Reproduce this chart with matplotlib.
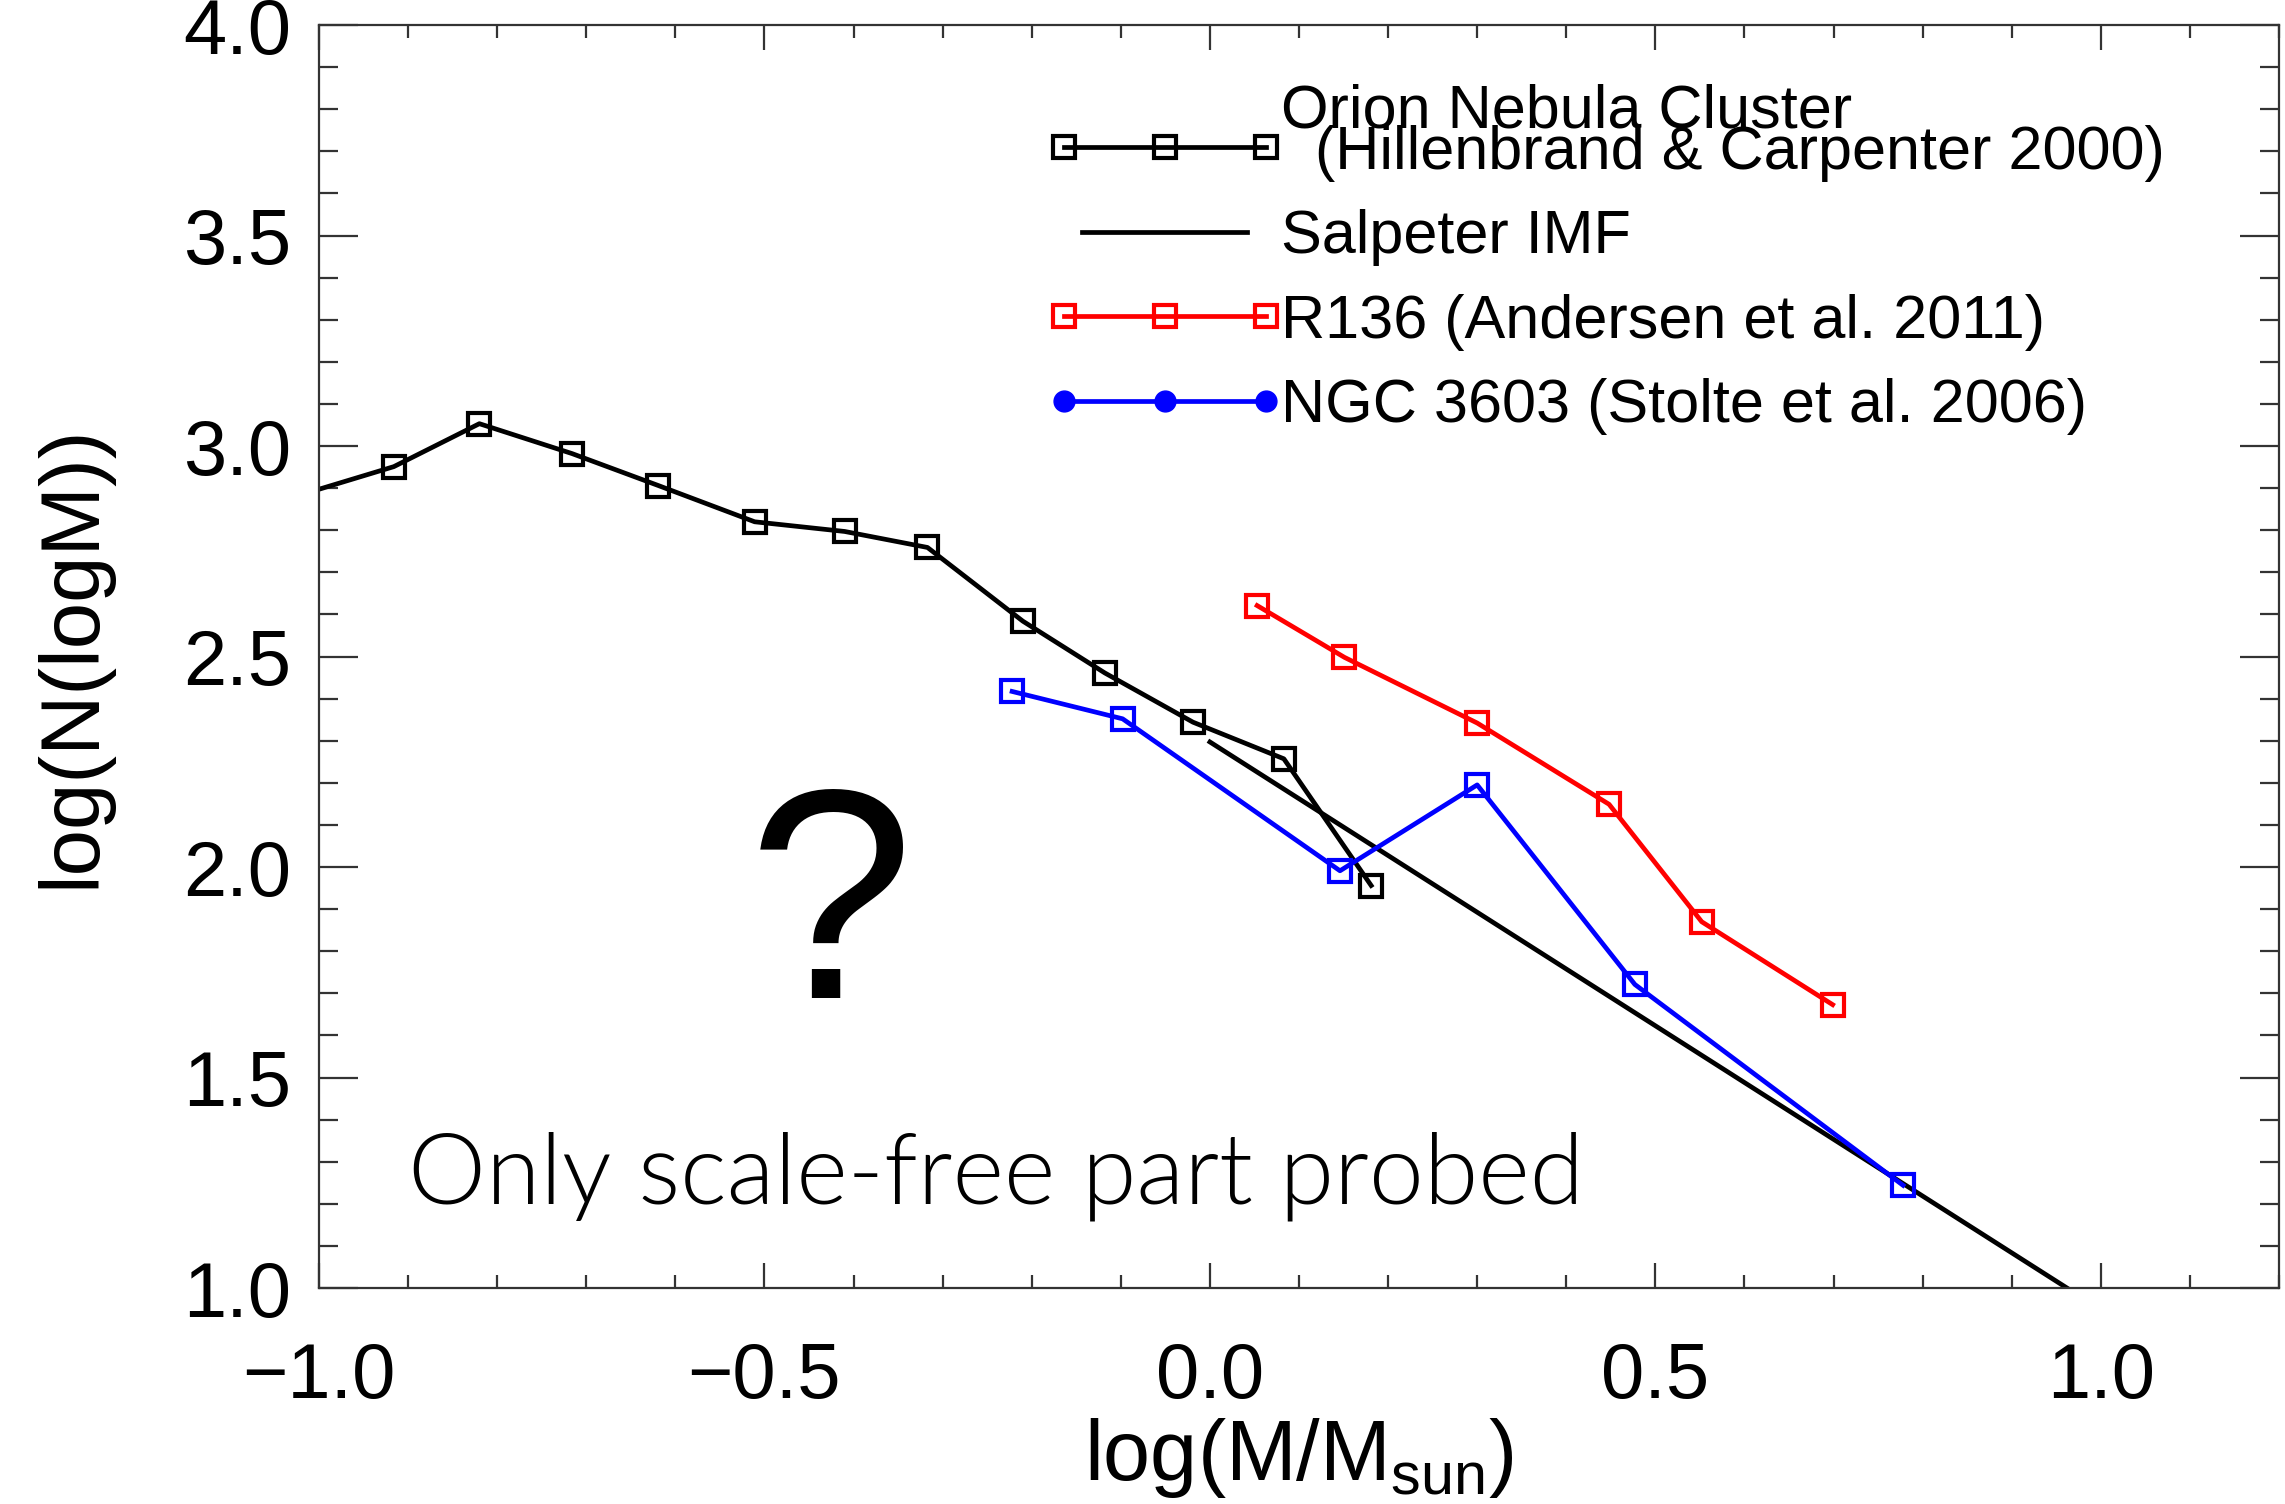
import matplotlib
matplotlib.use("Agg")
import matplotlib.pyplot as plt
from matplotlib.lines import Line2D
from matplotlib.legend_handler import HandlerLine2D
from matplotlib.ticker import MultipleLocator

plt.rcParams['font.family'] = ['Liberation Sans', 'DejaVu Sans']
plt.rcParams['mathtext.fontset'] = 'custom'
plt.rcParams['mathtext.rm'] = 'Liberation Sans'

# Orion Nebula Cluster (Hillenbrand & Carpenter 2000)
onc_logm = [-1.016, -0.916, -0.820, -0.716, -0.619, -0.511, -0.410, -0.317,
            -0.210, -0.118, -0.019, 0.083, 0.181]
onc_logn = [2.887, 2.951, 3.053, 2.982, 2.906, 2.820, 2.797, 2.759,
            2.584, 2.461, 2.344, 2.257, 1.956]

# Salpeter IMF (straight line, two end points)
salp_logm = [0.0, 0.962]
salp_logn = [2.297, 1.0]

# R136 (Andersen et al. 2011)
r136_logm = [0.053, 0.151, 0.300, 0.448, 0.552, 0.699]
r136_logn = [2.621, 2.498, 2.342, 2.149, 1.870, 1.673]

# NGC 3603 (Stolte et al. 2006)
ngc_logm = [-0.222, -0.098, 0.146, 0.300, 0.477, 0.778]
ngc_logn = [2.417, 2.352, 1.991, 2.195, 1.721, 1.244]

labels = ["Orion Nebula Cluster\n  (Hillenbrand & Carpenter 2000)",
          "Salpeter IMF",
          "R136 (Andersen et al. 2011)",
          "NGC 3603 (Stolte et al. 2006)"]

fig = plt.figure(figsize=(22.85, 15.04), dpi=100)
ax = fig.add_axes([319 / 2285, 1 - 1288 / 1504, 1960 / 2285, 1263 / 1504])

lw = 3.4
msq = dict(marker='s', markersize=16, markerfacecolor='none', markeredgewidth=3.0)

l_onc, = ax.plot(onc_logm, onc_logn, color='black', lw=lw, **msq)
l_salp, = ax.plot(salp_logm, salp_logn, color='black', lw=lw)
l_r136, = ax.plot(r136_logm, r136_logn, color='#ff0000', lw=lw,
                  markeredgecolor='#ff0000', **msq)
l_ngc, = ax.plot(ngc_logm, ngc_logn, color='#0000ff', lw=lw,
                 markeredgecolor='#0000ff', **msq)
# legend proxy: NGC 3603 uses filled dots in the key
p_ngc = Line2D([], [], color='#0000ff', lw=lw, marker='o', markersize=15,
               markerfacecolor='#0000ff', markeredgecolor='#0000ff')

ax.set_xlim(-1.0, 1.2)
ax.set_ylim(1.0, 4.0)
ax.xaxis.set_major_locator(MultipleLocator(0.5))
ax.xaxis.set_minor_locator(MultipleLocator(0.1))
ax.yaxis.set_major_locator(MultipleLocator(0.5))
ax.yaxis.set_minor_locator(MultipleLocator(0.1))
ax.xaxis.set_major_formatter(lambda v, p: f"{v:.1f}".replace("-", "\u2212"))
ax.yaxis.set_major_formatter(lambda v, p: f"{v:.1f}")

for s in ax.spines.values():
    s.set_linewidth(1.6)
    s.set_color('#333333')
ax.tick_params(axis='both', which='both', direction='in', top=True, right=True,
               width=1.6, color='#333333')
ax.tick_params(axis='x', which='major', length=18, pad=38, labelsize=56)
ax.tick_params(axis='x', which='minor', length=9.5)
ax.tick_params(axis='y', which='major', length=28, pad=20, labelsize=56)
ax.tick_params(axis='y', which='minor', length=14)

ax.set_xlabel(r"log(M/M$_{\mathrm{sun}}$)", fontsize=61)
ax.set_ylabel("log(N(logM))", fontsize=60)
ax.xaxis.set_label_coords(0.5, -0.101)
ax.yaxis.set_label_coords(-0.106, 0.5)

ax.text(-0.425, 1.688, "?", fontsize=215, ha='center', va='baseline')
ax.text(-0.90, 1.20, "Only scale-free part probed", fontsize=71,
        family=['Lato', 'DejaVu Sans'], fontweight=300, va='baseline')

leg = ax.legend([l_onc, l_salp, l_r136, p_ngc], labels,
                loc='upper left', bbox_to_anchor=(1064 / 2285, 1 - 83 / 1504),
                bbox_transform=fig.transFigure, frameon=False, fontsize=44,
                borderpad=0, borderaxespad=0, numpoints=3, handlelength=3.3,
                handletextpad=0.25, labelspacing=0.45,
                handler_map={l_onc: HandlerLine2D(marker_pad=0),
                             l_r136: HandlerLine2D(marker_pad=0),
                             p_ngc: HandlerLine2D(marker_pad=0)})
leg.get_texts()[0].set_linespacing(0.65)
# align the ONC key with the second line of its label
for col in leg._legend_handle_box.get_children():
    for row in col.get_children():
        row.get_children()[1]._multilinebaseline = False

fig.savefig("out.png", dpi=100)
